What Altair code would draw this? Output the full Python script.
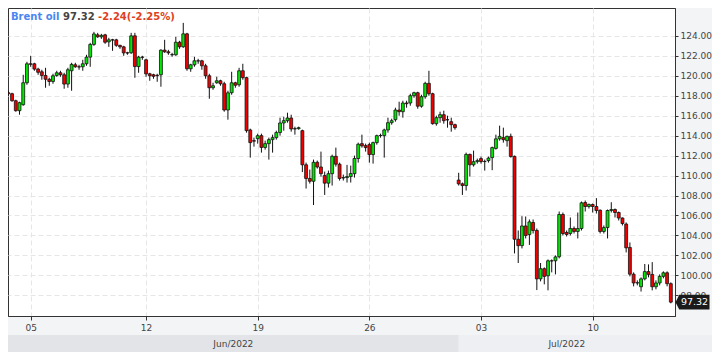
import altair as alt
import pandas as pd

# ---- data (4-hour candles, Brent oil) ----
opens = [118.30, 118.20, 117.50, 116.50, 117.10, 119.30, 121.20, 121.20, 120.67, 120.40,
         120.03, 119.65, 119.43, 120.03, 120.30, 120.10, 119.17, 120.50, 121.10, 120.90,
         120.90, 121.20, 121.87, 123.14, 124.10, 123.90, 124.10, 123.40, 123.60, 123.60,
         123.05, 122.90, 122.30, 122.30, 124.00, 120.92, 121.87, 121.60, 120.20, 120.10,
         120.05, 120.10, 122.57, 122.40, 122.10, 122.10, 123.36, 122.90, 124.20, 120.70,
         121.10, 121.50, 121.50, 121.00, 120.00, 118.80, 119.30, 119.50, 119.20, 116.57,
         118.30, 119.30, 119.10, 120.50, 119.81, 114.57, 113.50, 113.70, 114.00, 112.82,
         113.20, 113.60, 113.80, 114.31, 115.27, 115.50, 115.77, 114.67, 114.70, 114.50,
         111.08, 109.71, 109.43, 111.33, 110.86, 110.00, 109.24, 110.19, 111.93, 111.14,
         109.76, 109.80, 109.90, 110.19, 111.71, 113.20, 113.00, 113.10, 112.10, 113.30,
         114.00, 114.00, 114.57, 115.30, 115.60, 116.57, 116.40, 117.27, 117.27, 118.00,
         118.30, 116.95, 117.90, 119.24, 118.20, 115.20, 115.80, 116.10, 115.60, 115.40,
         115.10, 109.55, 109.17, 109.00, 112.12, 111.08, 111.40, 111.70, 111.40, 111.50,
         111.80, 112.72, 113.68, 113.80, 113.50, 113.93, 111.93, 103.62, 102.98, 104.95,
         104.10, 105.30, 104.50, 99.65, 100.67, 99.96, 101.46, 101.46, 101.87, 106.10,
         104.30, 104.20, 104.70, 104.40, 104.70, 107.30, 106.90, 107.10, 106.90, 106.53,
         104.40, 104.79, 106.50, 106.60, 106.30, 105.75, 105.14, 102.80, 100.12, 99.24,
         98.86, 99.65, 100.38, 100.10, 98.86, 99.24, 99.90, 100.26, 99.17]
closes = [118.20, 117.50, 116.50, 117.30, 119.30, 121.20, 121.15, 120.67, 120.35, 120.03,
          119.65, 119.43, 120.00, 120.30, 120.10, 119.17, 120.60, 121.14, 120.90, 120.88,
          121.20, 121.87, 123.14, 124.19, 123.90, 124.05, 123.36, 123.60, 123.58, 123.05,
          122.90, 122.29, 122.28, 124.00, 120.92, 121.87, 121.85, 120.19, 120.00, 119.95,
          120.00, 122.57, 122.40, 122.30, 122.12, 123.36, 122.90, 124.20, 120.70, 121.10,
          121.50, 121.48, 121.00, 120.00, 118.80, 119.00, 119.50, 119.20, 116.57, 118.29,
          119.30, 119.05, 120.50, 119.81, 114.50, 113.30, 113.45, 114.00, 112.82, 113.20,
          113.60, 113.80, 114.31, 115.27, 115.50, 115.77, 114.67, 114.70, 114.80, 111.08,
          109.71, 109.43, 111.33, 110.86, 110.19, 109.24, 110.19, 111.93, 111.14, 109.71,
          109.80, 109.90, 110.20, 111.71, 113.14, 112.98, 112.80, 112.10, 113.30, 114.00,
          114.02, 114.57, 115.30, 115.50, 116.57, 116.40, 117.27, 117.20, 118.00, 118.30,
          116.95, 117.90, 119.24, 118.20, 115.20, 115.80, 116.10, 115.50, 115.58, 115.10,
          114.80, 109.17, 109.00, 112.12, 111.08, 111.39, 111.50, 111.40, 111.42, 111.75,
          112.80, 113.68, 113.93, 113.60, 113.93, 111.90, 103.62, 102.98, 104.95, 104.00,
          105.36, 104.50, 99.65, 100.67, 99.90, 101.46, 101.44, 101.85, 106.10, 104.19,
          104.10, 104.70, 104.40, 104.70, 107.27, 106.90, 107.10, 106.90, 106.50, 104.40,
          104.79, 106.50, 106.60, 106.30, 105.75, 105.20, 102.76, 100.12, 99.24, 99.26,
          99.65, 100.38, 100.10, 98.86, 99.24, 99.90, 100.26, 99.17, 97.32]
highs = [118.50, 118.30, 117.60, 117.40, 120.10, 121.40, 122.00, 121.30, 120.80, 120.60,
         120.80, 119.80, 120.20, 120.50, 120.50, 120.30, 120.80, 121.30, 121.30, 121.10,
         121.60, 122.10, 123.30, 124.40, 124.30, 124.20, 124.20, 123.80, 123.70, 123.70,
         123.10, 123.00, 122.40, 124.30, 124.30, 122.00, 122.00, 121.70, 120.30, 120.20,
         120.20, 122.65, 123.60, 122.60, 122.30, 123.90, 123.50, 125.30, 124.30, 121.20,
         121.90, 121.70, 121.60, 121.20, 120.20, 119.30, 119.90, 119.60, 119.40, 118.50,
         120.40, 119.40, 120.80, 121.20, 119.90, 114.70, 113.80, 114.20, 114.20, 113.50,
         113.80, 114.10, 114.50, 115.80, 115.90, 116.30, 116.10, 114.90, 114.90, 114.60,
         111.30, 110.60, 111.60, 111.50, 112.40, 110.40, 110.50, 112.10, 112.80, 111.30,
         110.10, 111.07, 111.00, 112.00, 113.30, 114.10, 113.20, 113.30, 113.40, 114.10,
         114.20, 114.70, 115.80, 115.70, 116.80, 117.40, 117.50, 117.50, 118.20, 118.40,
         118.40, 118.10, 119.40, 120.50, 118.30, 116.00, 116.40, 116.50, 116.00, 115.80,
         115.20, 110.28, 109.30, 112.30, 112.20, 112.50, 111.70, 111.90, 111.60, 111.90,
         112.90, 114.10, 115.00, 114.80, 114.00, 114.20, 112.00, 104.50, 105.93, 105.90,
         105.60, 105.60, 104.70, 101.24, 100.80, 101.60, 101.60, 102.00, 106.40, 106.30,
         104.50, 105.80, 104.90, 106.30, 107.40, 107.50, 107.20, 107.20, 107.74, 106.60,
         105.00, 106.60, 107.33, 106.70, 106.40, 105.80, 105.30, 103.30, 100.30, 99.50,
         99.80, 101.14, 101.10, 101.33, 99.50, 100.10, 100.40, 100.40, 99.30]
lows = [118.00, 117.40, 116.40, 116.10, 117.00, 119.10, 120.90, 120.50, 120.10, 119.60,
        118.80, 119.00, 119.20, 119.90, 119.90, 118.70, 118.80, 118.50, 120.80, 120.60,
        120.50, 121.00, 120.90, 123.00, 123.80, 123.70, 123.20, 122.90, 122.50, 122.90,
        122.70, 122.00, 122.10, 122.20, 119.80, 120.30, 121.60, 119.90, 119.50, 119.70,
        119.40, 118.90, 122.30, 122.10, 121.90, 122.00, 122.70, 122.80, 120.50, 120.40,
        120.90, 121.20, 120.60, 119.70, 117.70, 118.60, 119.20, 119.00, 116.40, 115.60,
        118.10, 118.80, 118.90, 119.60, 114.30, 111.80, 112.90, 113.20, 112.30, 112.60,
        111.60, 112.30, 113.60, 114.00, 114.50, 115.30, 114.40, 114.10, 114.60, 110.35,
        108.70, 109.20, 107.05, 110.70, 109.90, 108.06, 108.80, 109.00, 110.90, 109.50,
        109.50, 109.30, 109.30, 109.80, 111.30, 112.80, 112.40, 111.30, 111.20, 113.10,
        113.80, 111.80, 114.30, 115.10, 115.40, 116.00, 115.80, 116.80, 117.00, 117.80,
        116.70, 116.80, 117.70, 118.00, 115.10, 115.00, 115.30, 115.20, 114.80, 114.40,
        114.60, 109.00, 108.06, 108.50, 109.90, 110.90, 111.20, 111.20, 110.50, 111.30,
        110.54, 112.60, 113.50, 113.30, 112.90, 111.80, 102.20, 101.24, 102.70, 103.70,
        103.05, 104.20, 98.53, 99.40, 99.10, 98.50, 100.30, 100.10, 101.70, 104.00,
        103.90, 104.00, 104.20, 103.70, 104.50, 106.40, 106.70, 106.30, 106.20, 104.20,
        104.20, 103.70, 106.30, 105.80, 105.50, 105.00, 102.30, 99.90, 98.90, 99.00,
        98.38, 99.50, 99.80, 98.50, 98.60, 99.00, 99.70, 98.90, 97.20]

week_idx = [6, 37, 67, 97, 127, 157]
week_labels = ["05", "12", "19", "26", "03", "10"]
month_names = ["Jun/2022", "Jul/2022"]
month_first_idx = [0, 121]
price_ticks = [98, 100, 102, 104, 106, 108, 110, 112, 114, 116, 118, 120, 122, 124]
instrument = "Brent oil"
last_text = "97.32"
change_text = "-2.24(-2.25%)"

# ---- layout / style ----
W, H = 667, 308
X_LO, X_HI = -0.09, 179.12
Y_LO, Y_HI = 95.93, 126.79
GREEN, RED = "#00e800", "#f20000"
GRID = "#e6e6e6"
DARK = "#333333"
TXT = "#444444"

df = pd.DataFrame({"idx": list(range(len(opens))), "open": opens, "high": highs,
                   "low": lows, "close": closes})
df["dir"] = ["up" if c >= o else "down" for o, c in zip(opens, closes)]

xscale = alt.Scale(domain=[X_LO, X_HI], nice=False, zero=False, padding=0)
yscale = alt.Scale(domain=[Y_LO, Y_HI], nice=False, zero=False, padding=0)

label_expr = " : ".join(f"datum.value == {i} ? '{l}'" for i, l in zip(week_idx, week_labels)) + " : ''"

xaxis = alt.Axis(values=week_idx, labelExpr=label_expr, title=None, grid=True,
                 gridDash=[5, 3], gridColor=GRID, gridWidth=1, domainColor=DARK,
                 tickColor=DARK, tickSize=4, labelFontSize=9, labelColor=TXT,
                 labelPadding=3, labelFont="DejaVu Sans")
yaxis = alt.Axis(orient="right", values=price_ticks, format=".2f", title=None, grid=True,
                 gridDash=[5, 3], gridColor=GRID, gridWidth=1, domainColor=DARK,
                 tickColor=DARK, tickSize=3, labelFontSize=9, labelColor=TXT,
                 labelPadding=2, labelFont="DejaVu Sans")

X = alt.X("idx:Q", scale=xscale, axis=xaxis)

# month band
starts = [X_LO] + month_first_idx[1:]
ends = month_first_idx[1:] + [X_HI + 20]
mdf = pd.DataFrame({"name": month_names, "start": starts, "end": ends})
mdf["mid"] = [(s + min(e, X_HI)) / 2 for s, e in zip(starts, ends)]

bands = alt.Chart(mdf).mark_rect().encode(
    x=alt.X("start:Q", scale=xscale, axis=xaxis), x2="end:Q",
    y=alt.value(H + 19), y2=alt.value(H + 36),
    color=alt.Color("name:N", scale=alt.Scale(domain=month_names, range=["#e3e4e7", "#eeeff2"]), legend=None))
mtext = alt.Chart(mdf).mark_text(fontSize=9, color=TXT, baseline="middle").encode(
    x=alt.X("mid:Q", scale=xscale, axis=xaxis), y=alt.value(H + 27.5), text="name:N")

wicks = alt.Chart(df).mark_rule(color="#111111", strokeWidth=1).encode(
    x=X, y=alt.Y("low:Q", scale=yscale, axis=yaxis), y2="high:Q")
bodies = alt.Chart(df).mark_bar(size=2.9, stroke="#111111", strokeWidth=0.8).encode(
    x=X, y=alt.Y("open:Q", scale=yscale, axis=yaxis), y2="close:Q",
    color=alt.Color("dir:N", scale=alt.Scale(domain=["up", "down"], range=[GREEN, RED]), legend=None))

hdf = pd.DataFrame({"name": [instrument], "last": [last_text], "chg": [change_text]})
h1 = alt.Chart(hdf).mark_text(align="left", fontSize=10, fontWeight="bold", color="#4a86f0").encode(
    x=alt.value(3), y=alt.value(9), text="name:N")
h2 = alt.Chart(hdf).mark_text(align="left", fontSize=10, fontWeight="bold", color=TXT).encode(
    x=alt.value(55), y=alt.value(9), text="last:N")
h3 = alt.Chart(hdf).mark_text(align="left", fontSize=10, fontWeight="bold", color="#e0401e").encode(
    x=alt.value(90), y=alt.value(9), text="chg:N")

ldf = pd.DataFrame({"close": [closes[-1]], "label": [f"{closes[-1]:.2f}"]})
marker = alt.Chart(ldf).mark_point(
    shape="M -1 0 L -0.78 -0.44 L 1 -0.44 L 1 0.44 L -0.78 0.44 Z",
    size=1156, filled=True, color="#1a1a1a", opacity=1).encode(
    x=alt.value(W + 17.5), y=alt.Y("close:Q", scale=yscale, axis=yaxis))
marker_text = alt.Chart(ldf).mark_text(color="white", fontSize=9.5, baseline="middle").encode(
    x=alt.value(W + 19.5), y=alt.Y("close:Q", scale=yscale, axis=yaxis), text="label:N")

chart = alt.layer(bands, mtext, wicks, bodies, h1, h2, h3, marker, marker_text).resolve_scale(
    color="independent"
).properties(
    width=W, height=H,
    autosize=alt.AutoSizeParams(type="none"),
    padding={"left": 0, "top": 0, "right": 704 - W, "bottom": 36},
    background="#f3f4f6",
).configure(font="DejaVu Sans").configure_view(stroke=DARK, strokeWidth=1, fill="white")

chart.save("out.html", embed_options={"renderer": "svg", "actions": False})
